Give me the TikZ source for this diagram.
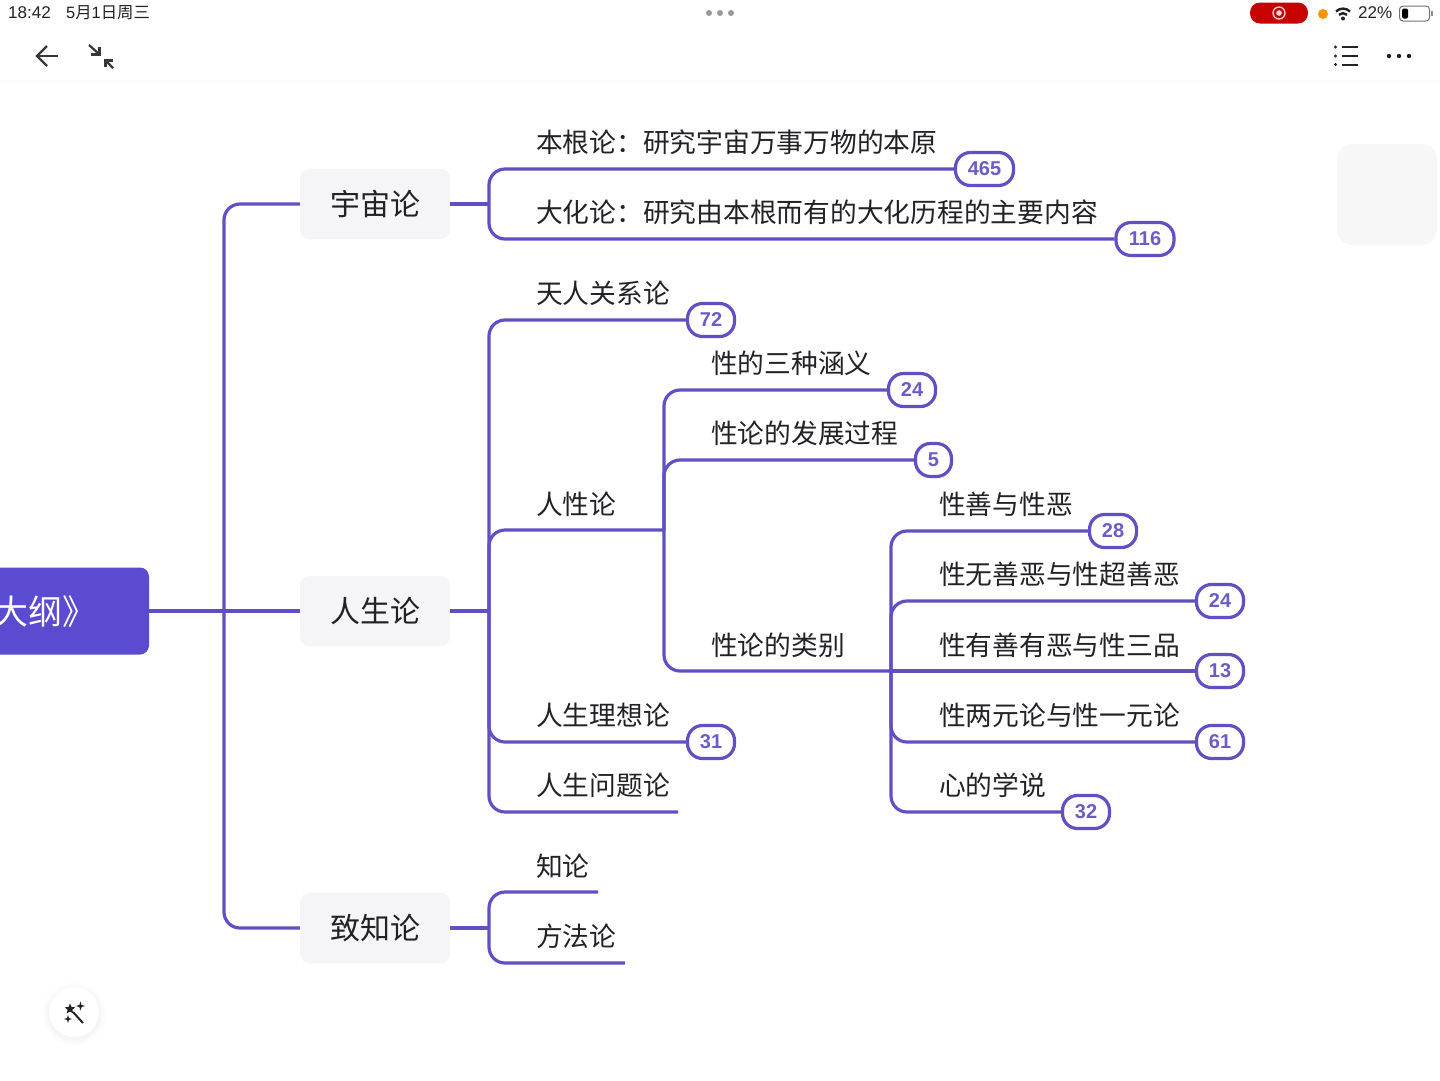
\documentclass[tikz,border=0pt]{standalone}
\usepackage{fontspec}
\setmainfont{Noto Sans CJK SC}
\newfontfamily\latinf{Liberation Sans}
\usetikzlibrary{shapes.geometric}
\definecolor{vio}{HTML}{5F50C4}
\definecolor{rootc}{HTML}{5A4BD0}
\definecolor{numc}{HTML}{6A5DC6}
\definecolor{card}{HTML}{F5F5F7}
\definecolor{ghostc}{HTML}{F7F7F8}
\definecolor{ink}{HTML}{222226}
\tikzset{
  conn/.style={draw=vio,line width=3.2pt,rounded corners=16pt},
  leaf/.style={inner sep=0pt,anchor=west,text=ink,font=\fontsize{26.75pt}{28pt}\selectfont},
  topic/.style={fill=card,rounded corners=9pt,minimum width=150pt,minimum height=70pt,inner sep=0pt,text=ink,font=\fontsize{30pt}{32pt}\selectfont},
  pill/.style={draw=vio,line width=3.2pt,fill=white,rounded corners=15pt,minimum height=33pt,inner sep=0pt,text=numc,font=\latinf\bfseries\fontsize{20pt}{22pt}\selectfont},
  status/.style={inner sep=0pt,text=ink,font=\fontsize{16.4pt}{18pt}\selectfont},
  icon/.style={draw=ink!90,line width=2.2pt},
}
\begin{document}
\begin{tikzpicture}[x=1pt,y=-1pt]
\useasboundingbox (0,0) rectangle (1440,1080);
\fill[white] (0,0) rectangle (1440,1080);
\fill[black!1] (0,80) rectangle (1440,83);
% junctions
\coordinate (b1) at (224,611);
\coordinate (b2) at (489,204);
\coordinate (b3) at (489,611);
\coordinate (b4) at (489,928);
\coordinate (b5) at (664,530);
\coordinate (b6) at (891,671);
\coordinate (e1) at (678,812);
\coordinate (e2) at (598,892);
\coordinate (e3) at (625,963);
% root and topics
\node[fill=ghostc,rounded corners=15pt,minimum width=100pt,minimum height=101pt,inner sep=0pt] (ghost) at (1387,194.5) {};
\node[fill=rootc,rounded corners=9pt,minimum width=169pt,minimum height=87pt,inner sep=0pt] (root) at (64.5,611) {};
\node[anchor=east,inner sep=0pt,text=white,font=\fontsize{34pt}{36pt}\selectfont] (roott) at (97,611.5) {大纲》};
\node[topic] (cosmos) at (375,204) {\raisebox{-2pt}{宇宙论}};
\node[topic] (life) at (375,611) {\raisebox{-2pt}{人生论}};
\node[topic] (know) at (375,928) {\raisebox{-2pt}{致知论}};
% pills
\node[pill,minimum width=58pt] (p1) at (984.5,169) {\raisebox{-1pt}{465}};
\node[pill,minimum width=58pt] (p2) at (1145,239) {\raisebox{-1pt}{116}};
\node[pill,minimum width=47pt] (p3) at (711,320) {\raisebox{-1pt}{72}};
\node[pill,minimum width=47pt] (p4) at (912,390) {\raisebox{-1pt}{24}};
\node[pill,minimum width=36pt] (p5) at (933.5,460) {\raisebox{-1pt}{5}};
\node[pill,minimum width=47pt] (p6) at (1113,531) {\raisebox{-1pt}{28}};
\node[pill,minimum width=47pt] (p7) at (1220,601) {\raisebox{-1pt}{24}};
\node[pill,minimum width=47pt] (p8) at (1220,671) {\raisebox{-1pt}{13}};
\node[pill,minimum width=47pt] (p9) at (1220,742) {\raisebox{-1pt}{61}};
\node[pill,minimum width=47pt] (p10) at (1086,812) {\raisebox{-1pt}{32}};
\node[pill,minimum width=47pt] (p11) at (711,742) {\raisebox{-1pt}{31}};
% connectors
\draw[conn] (root.east) -- (life.west);
\draw[conn] (b1) |- (cosmos.west);
\draw[conn] (b1) |- (know.west);
\draw[conn] (cosmos.east) -- (b2);
\draw[conn] (life.east) -- (b3);
\draw[conn] (know.east) -- (b4);
\draw[conn] (b2) |- (p1.west);
\draw[conn] (b2) |- (p2.west);
\draw[conn] (b3) |- (p3.west);
\draw[conn] (b3) |- (b5);
\draw[conn] (b3) |- (p11.west);
\draw[conn] (b3) |- (e1);
\draw[conn] (b5) |- (p4.west);
\draw[conn] (b5) |- (p5.west);
\draw[conn] (b5) |- (b6);
\draw[conn] (b6) |- (p6.west);
\draw[conn] (b6) |- (p7.west);
\draw[conn] (b6) -- (p8.west);
\draw[conn] (b6) |- (p9.west);
\draw[conn] (b6) |- (p10.west);
\draw[conn] (b4) |- (e2);
\draw[conn] (b4) |- (e3);
% labels
\node[leaf] (t1) at (536,142) {本根论：研究宇宙万事万物的本原};
\node[leaf] (t2) at (536,212) {大化论：研究由本根而有的大化历程的主要内容};
\node[leaf] (t3) at (536,293) {天人关系论};
\node[leaf] (t4) at (711,363.5) {性的三种涵义};
\node[leaf] (t5) at (711,433.5) {性论的发展过程};
\node[leaf] (t6) at (536,504) {人性论};
\node[leaf] (t7) at (939,504) {性善与性恶};
\node[leaf] (t8) at (939,574) {性无善恶与性超善恶};
\node[leaf] (t9) at (711,645) {性论的类别};
\node[leaf] (t10) at (939,645) {性有善有恶与性三品};
\node[leaf] (t11) at (536,715) {人生理想论};
\node[leaf] (t12) at (939,715) {性两元论与性一元论};
\node[leaf] (t13) at (536,785.5) {人生问题论};
\node[leaf] (t14) at (939,785.5) {心的学说};
\node[leaf] (t15) at (536,866) {知论};
\node[leaf] (t16) at (536,936.5) {方法论};
% status bar
\node[status,anchor=west,font=\latinf\fontsize{17pt}{18pt}\selectfont] (clock) at (8,13) {18:42};
\node[status,anchor=west] (date) at (66,12.5) {{\latinf 5}月{\latinf 1}日周三};
\foreach \x in {709,720,731}{\fill[black!40] (\x,13) circle (3pt);}
\node[fill=red!78!black,rounded corners=10pt,minimum width=58pt,minimum height=21pt,inner sep=0pt] (rec) at (1279,13) {};
\draw[white!85!red,line width=1.3pt] (rec) circle (6pt);
\fill[white!85!red] (rec) circle (2.8pt);
\fill[orange!85!yellow] (1323,14) circle (5pt);
\fill[ink] (1343,18.5) circle (2pt);
\draw[ink,line width=2.4pt] (1339,14.8) arc[start angle=135,end angle=45,radius=5.6pt];
\draw[ink,line width=2.4pt] (1336,11.5) arc[start angle=135,end angle=45,radius=9.9pt];
\node[status,anchor=west,font=\latinf\fontsize{17pt}{18pt}\selectfont] (batt) at (1358,13) {22\%};
\draw[black!55,line width=1pt,rounded corners=3.5pt] (1399.5,6) rectangle (1429.5,21);
\fill[black,rounded corners=1.5pt] (1402,8.5) rectangle (1408,18.5);
\fill[black!45] (1431,11) rectangle (1432.5,16);
% toolbar icons
\draw[icon] (58,56) -- (37,56);
\draw[icon] (47,46) -- (37,56) -- (47,66);
\draw[icon] (89,45) -- (99,54);
\draw[icon,line width=3pt] (99,47) -- (99,54) -- (91,54);
\draw[icon] (113,68) -- (105,60);
\draw[icon,line width=3pt] (105,67) -- (105,60) -- (113,60);
\foreach \y in {47,56,64.5}{\fill[ink] (1335.5,\y) circle (1.7pt); \draw[ink,line width=2pt] (1342,\y) -- (1358,\y);}
\foreach \x in {1389,1399,1409}{\fill[ink] (\x,56) circle (2.2pt);}
% magic button
\foreach \r/\o in {32/0.006,30/0.008,28/0.01,26.5/0.012}{\fill[black,opacity=\o] (74,1014) circle (\r pt);}
\fill[white] (74,1012) circle (25pt);
\node[star,star points=5,star point ratio=2.2,fill=ink,inner sep=0pt,minimum size=11pt] (wstar) at (70,1009) {};
\draw[ink,line width=2pt] (73,1012) -- (83,1023);
\node[star,star points=4,star point ratio=3,fill=ink,inner sep=0pt,minimum size=9pt] (s1) at (80.5,1006) {};
\node[star,star points=4,star point ratio=3,fill=ink,inner sep=0pt,minimum size=8pt] (s2) at (68,1019) {};
\end{tikzpicture}
\end{document}
